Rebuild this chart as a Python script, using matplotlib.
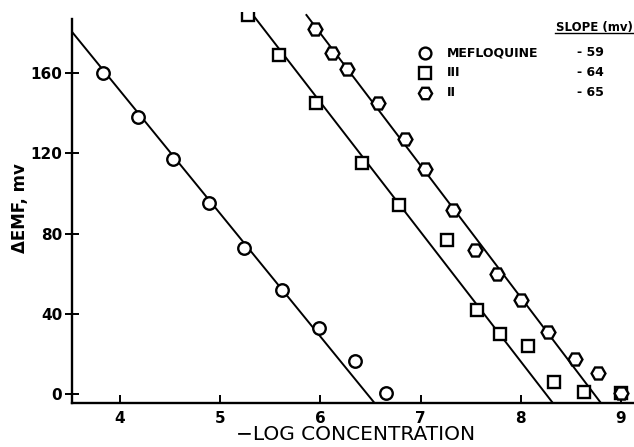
import matplotlib
matplotlib.use("Agg")
import matplotlib.pyplot as plt

# ---- data ----
mef_x = [3.83, 4.18, 4.53, 4.89, 5.24, 5.62, 5.99, 6.34, 6.65]
mef_y = [160, 138, 117, 95, 73, 52, 33, 16.5, 0.5]

iii_x = [5.28, 5.59, 5.96, 6.41, 6.78, 7.26, 7.56, 7.79, 8.07, 8.33, 8.63, 9.0]
iii_y = [189, 169, 145, 115, 94, 77, 42, 30, 24, 6, 1, 0.5]

ii_x = [5.95, 6.12, 6.27, 6.57, 6.84, 7.04, 7.32, 7.54, 7.76, 8.0, 8.27, 8.54, 8.77, 9.0]
ii_y = [182, 170, 162, 145, 127, 112, 92, 72, 60, 47, 31, 17.5, 10.5, 0.5]

# fitted line end points
mef_fit_x = [3.52, 6.54]
mef_fit_y = [180.6, -4.5]
iii_fit_x = [5.28, 8.32]
iii_fit_y = [192, -4.5]
ii_fit_x = [5.86, 8.80]
ii_fit_y = [189, -4.5]

legend_names = ["MEFLOQUINE", "III", "II"]
legend_slopes = ["- 59", "- 64", "- 65"]
x_ticks = [4, 5, 6, 7, 8, 9]
y_ticks = [0, 40, 80, 120, 160]

plt.rcParams['font.family'] = ['DejaVu Sans']

W, H = 634, 447
fig = plt.figure(figsize=(W / 100, H / 100), dpi=100)
ax_left, ax_right, ax_bottom, ax_top = 72, 634, 403, 12
ax = fig.add_axes([ax_left / W, 1 - ax_bottom / H,
                   (ax_right - ax_left) / W, (ax_bottom - ax_top) / H])

ax.set_xlim(3.52, 9.13)
ax.set_ylim(-4.5, 190.5)

lk = dict(color='black', lw=1.4, zorder=2)
ax.plot(mef_fit_x, mef_fit_y, **lk)
ax.plot(iii_fit_x, iii_fit_y, **lk)
ax.plot(ii_fit_x, ii_fit_y, **lk)

mk = dict(linestyle='none', markerfacecolor='white', markeredgecolor='black',
          markeredgewidth=1.7, zorder=3)
ax.plot(mef_x, mef_y, marker='o', markersize=9, **mk)
ax.plot(iii_x, iii_y, marker='s', markersize=8.5, **mk)
ax.plot(ii_x, ii_y, marker='H', markersize=10, **mk)

for s in ['top', 'right']:
    ax.spines[s].set_visible(False)
ax.spines['left'].set_linewidth(1.7)
ax.spines['bottom'].set_linewidth(1.7)
ax.spines['left'].set_bounds(-4.5, 187)

ax.set_xticks(x_ticks)
ax.set_yticks(y_ticks)
ax.tick_params(axis='x', direction='in', length=6, width=1.4, pad=6, labelsize=11)
ax.tick_params(axis='y', direction='inout', length=10, width=1.4, pad=2, labelsize=11)
for lab in ax.get_xticklabels() + ax.get_yticklabels():
    lab.set_fontweight('bold')

fig.text(356 / W, 1 - 435 / H, "\u2212LOG CONCENTRATION", ha='center', va='center',
         fontsize=14.5)
fig.text(20 / W, 1 - 208 / H, "\u0394EMF, mv", ha='center', va='center',
         rotation=90, fontsize=12, fontweight='bold')

# legend (drawn manually)
fig.text(594 / W, 1 - 27 / H, "SLOPE (mv)", ha='center', va='center',
         fontsize=8.5, fontweight='bold')
fig.add_artist(plt.Line2D([555 / W, 633 / W], [1 - 33 / H, 1 - 33 / H],
                          color='black', lw=1.0))
markers = ['o', 's', 'H']
sizes = [8.5, 8, 9.5]
ys = [53, 73, 93]
for m, ms, yy, name, sl in zip(markers, sizes, ys, legend_names, legend_slopes):
    fig.add_artist(plt.Line2D([425 / W], [1 - yy / H], marker=m, markersize=ms,
                              markerfacecolor='white', markeredgecolor='black',
                              markeredgewidth=1.7, linestyle='none'))
    fig.text(447 / W, 1 - yy / H, name, ha='left', va='center', fontsize=9,
             fontweight='bold')
    fig.text(577 / W, 1 - yy / H, sl, ha='left', va='center', fontsize=9,
             fontweight='bold')

fig.savefig("out.png", dpi=100)
